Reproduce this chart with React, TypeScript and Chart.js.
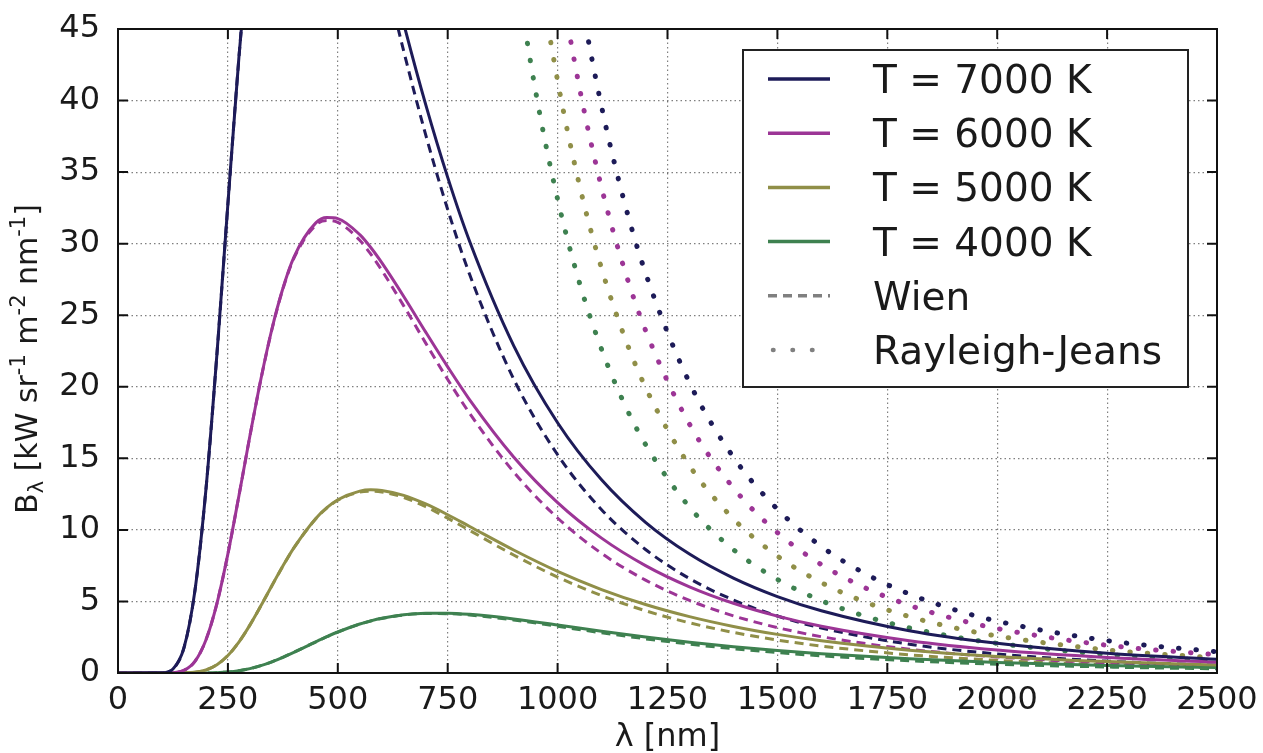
import React, { useEffect, useRef } from 'react';
import { Chart, registerables } from 'chart.js';

Chart.register(...registerables);

// Wavelength grid (nm) shared by the Planck and Wien curves
const WAVELENGTH_NM = [0, 100, 125, 150, 175, 200, 225, 250, 275, 300, 325, 350, 375, 400, 450, 475, 500, 550, 575, 600, 650, 700, 750, 800, 900, 1000, 1100, 1200, 1300, 1400, 1500, 1600, 1800, 2000, 2250, 2500];

// Spectral radiance, kW sr^-1 m^-2 nm^-1 (Planck law)
const PLANCK_7000 = [0, 0.014, 0.282, 1.755, 5.754, 12.81, 22.27, 32.79, 43.0, 51.91, 58.98, 64.02, 67.16, 68.63, 67.72, 65.91, 63.52, 57.76, 54.64, 51.49, 45.37, 39.71, 34.63, 30.15, 22.88, 17.49, 13.5, 10.53, 8.31, 6.63, 5.34, 4.35, 2.955, 2.074, 1.383, 0.956];
const PLANCK_6000 = [0, 0.0005, 0.018, 0.179, 0.812, 2.31, 4.856, 8.327, 12.37, 16.56, 20.53, 24.02, 26.87, 29.05, 31.45, 31.82, 31.75, 30.63, 29.73, 28.67, 26.31, 23.82, 21.39, 19.09, 15.1, 11.91, 9.425, 7.506, 6.023, 4.872, 3.974, 3.267, 2.259, 1.606, 1.085, 0.758];
const PLANCK_5000 = [0, 0, 0.0004, 0.0073, 0.052, 0.21, 0.577, 1.223, 2.162, 3.346, 4.692, 6.096, 7.47, 8.742, 10.8, 11.55, 12.11, 12.71, 12.8, 12.76, 12.41, 11.81, 11.06, 10.24, 8.595, 7.102, 5.832, 4.786, 3.937, 3.252, 2.699, 2.253, 1.597, 1.157, 0.797, 0.564];
const PLANCK_4000 = [0, 0, 0, 0.0001, 0.0009, 0.0058, 0.0236, 0.0688, 0.158, 0.304, 0.513, 0.78, 1.097, 1.446, 2.181, 2.535, 2.865, 3.423, 3.644, 3.825, 4.072, 4.181, 4.181, 4.098, 3.776, 3.356, 2.922, 2.515, 2.151, 1.837, 1.568, 1.341, 0.988, 0.738, 0.523, 0.379];

// Wien approximation
const WIEN_7000 = [0, 0.014, 0.282, 1.755, 5.754, 12.81, 22.27, 32.78, 42.98, 51.86, 58.88, 63.84, 66.88, 68.23, 67.02, 65.04, 62.48, 56.38, 53.11, 49.82, 43.45, 37.6, 32.39, 27.84, 20.55, 15.25, 11.41, 8.633, 6.6, 5.101, 3.984, 3.143, 2.012, 1.332, 0.828, 0.536];
const WIEN_6000 = [0, 0.0005, 0.018, 0.179, 0.812, 2.31, 4.856, 8.326, 12.37, 16.55, 20.51, 23.99, 26.83, 28.97, 31.3, 31.62, 31.49, 30.24, 29.27, 28.14, 25.65, 23.05, 20.51, 18.14, 14.05, 10.83, 8.36, 6.489, 5.071, 3.994, 3.171, 2.537, 1.663, 1.122, 0.711, 0.467];
const WIEN_5000 = [0, 0, 0.0004, 0.0073, 0.052, 0.21, 0.577, 1.223, 2.162, 3.346, 4.691, 6.094, 7.467, 8.736, 10.78, 11.52, 12.07, 12.64, 12.71, 12.65, 12.27, 11.62, 10.82, 9.961, 8.244, 6.702, 5.405, 4.351, 3.507, 2.835, 2.303, 1.88, 1.274, 0.883, 0.575, 0.386];
const WIEN_4000 = [0, 0, 0, 0.0001, 0.0009, 0.0058, 0.0236, 0.0688, 0.158, 0.304, 0.513, 0.78, 1.097, 1.446, 2.18, 2.533, 2.863, 3.418, 3.637, 3.815, 4.056, 4.157, 4.147, 4.053, 3.706, 3.264, 2.811, 2.389, 2.016, 1.696, 1.426, 1.199, 0.854, 0.616, 0.418, 0.289];

// Rayleigh-Jeans approximation (only the part that enters the plot)
const RJ_WAVELENGTH_NM = [850, 900, 950, 1000, 1050, 1100, 1150, 1200, 1300, 1400, 1500, 1600, 1700, 1800, 1900, 2000, 2250, 2500];
const RJ_7000 = [111.0, 88.32, 71.14, 57.95, 47.67, 39.58, 33.13, 27.95, 20.29, 15.08, 11.45, 8.842, 6.938, 5.52, 4.447, 3.622, 2.261, 1.483];
const RJ_6000 = [95.15, 75.7, 60.98, 49.67, 40.86, 33.92, 28.4, 23.95, 17.39, 12.93, 9.811, 7.579, 5.947, 4.731, 3.811, 3.104, 1.938, 1.272];
const RJ_5000 = [79.29, 63.09, 50.82, 41.39, 34.05, 28.27, 23.67, 19.96, 14.49, 10.77, 8.176, 6.316, 4.956, 3.943, 3.176, 2.587, 1.615, 1.06];
const RJ_4000 = [63.43, 50.47, 40.65, 33.11, 27.24, 22.62, 18.93, 15.97, 11.59, 8.62, 6.541, 5.053, 3.965, 3.154, 2.541, 2.07, 1.292, 0.848];

const X_TICKS = [0, 250, 500, 750, 1000, 1250, 1500, 1750, 2000, 2250, 2500];
const X_TICK_LABELS = ['0', '250', '500', '750', '1000', '1250', '1500', '1750', '2000', '2250', '2500'];
const Y_TICKS = [0, 5, 10, 15, 20, 25, 30, 35, 40, 45];
const Y_TICK_LABELS = ['0', '5', '10', '15', '20', '25', '30', '35', '40', '45'];

const TEMPERATURE_LABELS = ['T = 7000 K', 'T = 6000 K', 'T = 5000 K', 'T = 4000 K'];
const MODEL_LABELS = ['Wien', 'Rayleigh-Jeans'];
const COLORS = ['#1d1b58', '#9c3596', '#908f48', '#3e8150'];

const PLANCK = [PLANCK_7000, PLANCK_6000, PLANCK_5000, PLANCK_4000];
const WIEN = [WIEN_7000, WIEN_6000, WIEN_5000, WIEN_4000];
const RJ = [RJ_7000, RJ_6000, RJ_5000, RJ_4000];

const FONT = "'DejaVu Sans', 'Liberation Sans', sans-serif";
const GREY = '#808080';
const TEXT = '#1a1a1a';

function points(xs: number[], ys: number[]) {
  return xs.map((x, i) => ({ x, y: ys[i] }));
}

// Frame with inward ticks, plus the boxed legend in the upper right
const frameLegendPlugin = {
  id: 'frameLegend',
  afterDatasetsDraw(chart: any) {
    const { ctx, chartArea: a, scales } = chart;
    ctx.save();
    ctx.strokeStyle = '#111';
    ctx.lineWidth = 2;
    ctx.setLineDash([]);
    ctx.beginPath();
    for (const v of X_TICKS) {
      const px = scales.x.getPixelForValue(v);
      ctx.moveTo(px, a.bottom);
      ctx.lineTo(px, a.bottom - 10);
      ctx.moveTo(px, a.top);
      ctx.lineTo(px, a.top + 10);
    }
    for (const v of Y_TICKS) {
      const py = scales.y.getPixelForValue(v);
      ctx.moveTo(a.left, py);
      ctx.lineTo(a.left + 10, py);
      ctx.moveTo(a.right, py);
      ctx.lineTo(a.right - 10, py);
    }
    ctx.stroke();
    ctx.strokeRect(a.left, a.top, a.right - a.left, a.bottom - a.top);

    // legend box
    const w = 445;
    const h = 337;
    const bx = a.right - 29 - w;
    const by = a.top + 21;
    ctx.fillStyle = '#ffffff';
    ctx.fillRect(bx, by, w, h);
    ctx.strokeStyle = '#222';
    ctx.lineWidth = 2;
    ctx.strokeRect(bx, by, w, h);

    const labels = [...TEMPERATURE_LABELS, ...MODEL_LABELS];
    const x0 = bx + 25;
    const x1 = bx + 87;
    ctx.font = `39px ${FONT}`;
    ctx.textBaseline = 'alphabetic';
    ctx.textAlign = 'left';
    labels.forEach((label, i) => {
      const cy = by + 29 + i * 54.2;
      const ds = chart.data.datasets.find((d: any) => d.label === label);
      ctx.save();
      ctx.beginPath();
      ctx.lineWidth = 3.5;
      if (i < 4) {
        ctx.strokeStyle = ds ? ds.borderColor : '#000';
        ctx.setLineDash([]);
        ctx.lineCap = 'butt';
      } else if (label === 'Wien') {
        ctx.strokeStyle = GREY;
        ctx.setLineDash([9, 6]);
        ctx.lineCap = 'butt';
      } else {
        ctx.strokeStyle = GREY;
        ctx.lineWidth = 4.5;
        ctx.setLineDash([0.5, 19]);
        ctx.lineCap = 'round';
      }
      ctx.moveTo(x0 + (i === 5 ? 5 : 0), cy);
      ctx.lineTo(x1, cy);
      ctx.stroke();
      ctx.restore();
      ctx.fillStyle = TEXT;
      ctx.fillText(label, bx + 130, cy + 14);
    });
    ctx.restore();
  },
  afterDraw(chart: any) {
    // rotated y-axis title with subscript and superscripts
    const { ctx, chartArea: a } = chart;
    const big = 30;
    const small = 21;
    const parts = [
      { t: 'B', s: big, dy: 0 },
      { t: 'λ', s: small, dy: 6 },
      { t: ' [kW sr', s: big, dy: 0 },
      { t: '-1', s: small, dy: -12 },
      { t: ' m', s: big, dy: 0 },
      { t: '-2', s: small, dy: -12 },
      { t: ' nm', s: big, dy: 0 },
      { t: '-1', s: small, dy: -12 },
      { t: ']', s: big, dy: 0 },
    ];
    ctx.save();
    let total = 0;
    const widths = parts.map((p) => {
      ctx.font = `${p.s}px ${FONT}`;
      const wd = ctx.measureText(p.t).width;
      total += wd;
      return wd;
    });
    const cy = (a.top + a.bottom) / 2 + 8;
    ctx.translate(37, cy);
    ctx.rotate(-Math.PI / 2);
    ctx.fillStyle = TEXT;
    ctx.textBaseline = 'alphabetic';
    ctx.textAlign = 'left';
    let x = -total / 2;
    parts.forEach((p, i) => {
      ctx.font = `${p.s}px ${FONT}`;
      ctx.fillText(p.t, x, p.dy);
      x += widths[i];
    });
    ctx.restore();
  },
};

export default function App() {
  const canvasRef = useRef<HTMLCanvasElement | null>(null);

  useEffect(() => {
    if (!canvasRef.current) return;
    const datasets: any[] = [];
    TEMPERATURE_LABELS.forEach((label, i) => {
      datasets.push({
        label,
        data: points(WAVELENGTH_NM, PLANCK[i]),
        borderColor: COLORS[i],
        borderWidth: 3,
        pointRadius: 0,
        cubicInterpolationMode: 'monotone',
        fill: false,
      });
    });
    TEMPERATURE_LABELS.forEach((label, i) => {
      datasets.push({
        label: `Wien ${label}`,
        data: points(WAVELENGTH_NM, WIEN[i]),
        borderColor: COLORS[i],
        borderWidth: 3,
        borderDash: [9, 6],
        pointRadius: 0,
        cubicInterpolationMode: 'monotone',
        fill: false,
      });
    });
    TEMPERATURE_LABELS.forEach((label, i) => {
      datasets.push({
        label: `Rayleigh-Jeans ${label}`,
        data: points(RJ_WAVELENGTH_NM, RJ[i]),
        borderColor: COLORS[i],
        borderWidth: 5,
        borderDash: [0.5, 17],
        borderCapStyle: 'round',
        pointRadius: 0,
        cubicInterpolationMode: 'monotone',
        fill: false,
      });
    });

    const chart = new Chart(canvasRef.current, {
      type: 'line',
      data: { datasets },
      plugins: [frameLegendPlugin],
      options: {
        animation: false,
        responsive: false,
        devicePixelRatio: 1,
        layout: { padding: { top: 29, right: 46, left: 0, bottom: 0 } },
        plugins: {
          legend: { display: false },
          tooltip: { enabled: false },
        },
        scales: {
          x: {
            type: 'linear',
            min: 0,
            max: 2500,
            afterBuildTicks: (scale: any) => {
              scale.ticks = X_TICKS.map((value) => ({ value }));
            },
            afterFit: (scale: any) => {
              scale.height = 80;
              scale.paddingLeft = 0;
              scale.paddingRight = 0;
            },
            ticks: {
              callback: (_v: any, i: number) => X_TICK_LABELS[i],
              font: { family: FONT, size: 32, lineHeight: 1 },
              color: TEXT,
              padding: 12,
              maxRotation: 0,
              autoSkip: false,
            },
            grid: {
              color: 'rgba(0,0,0,0.5)',
              lineWidth: 1.2,
              drawTicks: false,
            },
            border: { display: false, dash: [1.5, 3] },
            title: {
              display: true,
              text: 'λ [nm]',
              font: { family: FONT, size: 32, lineHeight: 1 },
              color: TEXT,
              padding: { top: 0, bottom: -1 },
            },
          },
          y: {
            type: 'linear',
            min: 0,
            max: 45,
            afterBuildTicks: (scale: any) => {
              scale.ticks = Y_TICKS.map((value) => ({ value }));
            },
            afterFit: (scale: any) => {
              scale.width = 118;
              scale.paddingTop = 0;
              scale.paddingBottom = 0;
            },
            ticks: {
              callback: (_v: any, i: number) => Y_TICK_LABELS[i],
              font: { family: FONT, size: 32, lineHeight: 1 },
              color: TEXT,
              padding: 18,
              autoSkip: false,
            },
            grid: {
              color: 'rgba(0,0,0,0.5)',
              lineWidth: 1.2,
              drawTicks: false,
            },
            border: { display: false, dash: [1.5, 3] },
          },
        },
      } as any,
    });
    return () => chart.destroy();
  }, []);

  return (
    <div style={{ position: 'fixed', left: 0, top: 0, width: 1263, height: 753, background: '#ffffff' }}>
      <canvas ref={canvasRef} width={1263} height={753} style={{ width: 1263, height: 753, display: 'block' }} />
    </div>
  );
}
